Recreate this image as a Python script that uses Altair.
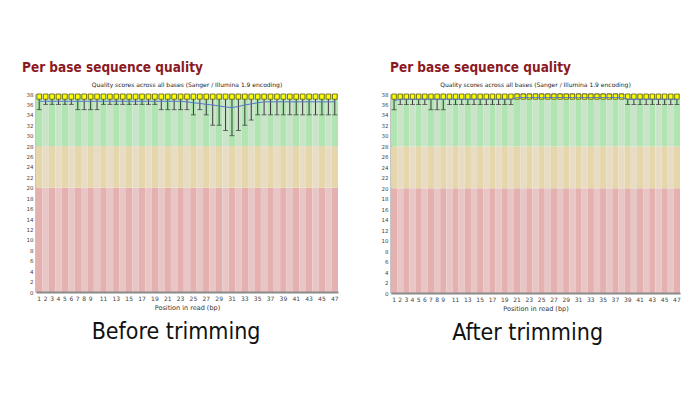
import altair as alt
import pandas as pd

positions = list(range(1, 48))
x_labels = [1, 2, 3, 4, 5, 6, 7, 8, 9, 11, 13, 15, 17, 19, 21, 23, 25, 27, 29, 31,
            33, 35, 37, 39, 41, 43, 45, 47]
y_ticks = list(range(0, 39, 2))

# Before trimming: 10th percentile, quartiles, 90th percentile, mean
before_low = [35, 36, 36, 36, 36, 36, 35, 35, 35, 35,
              36, 36, 36, 36, 36, 36, 36, 36, 36,
              35, 35, 35, 35, 35,
              34, 35, 34, 32, 32, 31, 30, 31, 32, 33,
              34, 34, 34, 34, 34, 34, 34, 34, 34, 34, 34, 34, 34]
before_q1 = [37, 37, 37, 37, 37, 37, 37, 37, 37, 37, 37, 37, 37, 37, 37, 37,
             37, 37, 37, 37, 37, 37, 37, 37, 37, 37, 37, 37, 37, 37, 37, 37,
             37, 37, 37, 37, 37, 37, 37, 37, 37, 37, 37, 37, 37, 37, 37]
before_q3 = [38, 38, 38, 38, 38, 38, 38, 38, 38, 38, 38, 38, 38, 38, 38, 38,
             38, 38, 38, 38, 38, 38, 38, 38, 38, 38, 38, 38, 38, 38, 38, 38,
             38, 38, 38, 38, 38, 38, 38, 38, 38, 38, 38, 38, 38, 38, 38]
before_mean = [36.6, 36.6, 36.6, 36.6, 36.6, 36.6, 36.6, 36.6, 36.6, 36.6,
               36.6, 36.6, 36.6, 36.6, 36.6, 36.6, 36.6, 36.6, 36.6, 36.6,
               36.6, 36.6, 36.6,
               36.5, 36.3, 36.2, 36.0, 35.9, 35.7, 35.5, 35.4, 35.6, 35.9,
               36.1, 36.3,
               36.5, 36.5, 36.5, 36.5, 36.5, 36.5, 36.5, 36.5, 36.5, 36.5,
               36.5, 36.5]

# After trimming
after_low = [35, 36, 36, 36, 36, 36, 35, 35, 35,
             36, 36, 36, 36, 36, 36, 36, 36, 36, 36, 36,
             38, 38, 38, 38, 38, 38, 38, 38, 38, 38, 38, 38, 38, 38, 38, 38,
             38, 38,
             36, 36, 36, 36, 36, 36, 36, 36, 36]
after_q1 = before_q1
after_q3 = before_q3
after_mean = [36.7,
              37.0, 37.0, 37.0, 37.0, 37.0, 37.0, 37.0, 37.0, 37.0, 37.0,
              37.0, 37.0, 37.0, 37.0, 37.0, 37.0, 37.0, 37.0, 37.0,
              37.3, 37.3, 37.3, 37.3, 37.3, 37.3, 37.3, 37.3, 37.3, 37.3,
              37.3, 37.3, 37.3, 37.3, 37.3, 37.3, 37.3, 37.3,
              37.0, 37.0, 37.0, 37.0, 37.0, 37.0, 37.0, 37.0, 37.0]

zone_names = ["bad", "ok", "good"]
zone_lo = [0, 20, 28]
zone_hi = [20, 28, 38]

shade_domain = ["good_d", "good_l", "ok_d", "ok_l", "bad_d", "bad_l"]
shade_range = ["#b0e4b0", "#cae4ca", "#e6d6ab", "#e8dcc4", "#e4b0b0", "#e8c6c6"]

SMALL_TITLE = "Quality scores across all bases (Sanger / Illumina 1.9 encoding)"
FONT = "DejaVu Sans"
BIG_FONT = "DejaVu Sans Condensed, DejaVu Sans, sans-serif"

YSCALE = alt.Scale(domain=[0, 38], nice=False, zero=True)
YAXIS = alt.Axis(values=y_ticks, title=None, ticks=False, grid=False,
                 labelFontSize=5.5, labelFont=FONT, labelColor="#444",
                 labelPadding=3, labelOverlap=False, labelBound=False,
                 domainColor="#8a8a8a", domainWidth=2)


def yq(field):
    return alt.Y(field + ":Q", scale=YSCALE, axis=YAXIS)


def bin_frame(low, q1, q3, mean):
    return pd.DataFrame({"pos": positions, "low": low, "q1": q1, "q3": q3,
                         "high": q3, "mean": mean})


def zone_frame():
    rows = []
    for p in positions:
        for z, lo, hi in zip(zone_names, zone_lo, zone_hi):
            rows.append({"pos": p, "lo": lo, "hi": hi,
                         "shade": z + ("_d" if p % 2 == 1 else "_l")})
    return pd.DataFrame(rows)


def panel(df, width, height):
    xenc = alt.X("pos:O",
                 scale=alt.Scale(paddingInner=0, paddingOuter=0),
                 axis=alt.Axis(values=x_labels, labelAngle=0,
                               title="Position in read (bp)",
                               titleFontSize=6.5, titleFontWeight="normal",
                               titleFont=FONT, titleColor="#333",
                               titlePadding=3,
                               labelFontSize=6, labelFont=FONT,
                               labelColor="#444", ticks=False,
                               labelPadding=3, labelOverlap=False,
                               domainColor="#8a8a8a", domainWidth=2))
    bg = alt.Chart(zone_frame()).mark_rect().encode(
        x=xenc,
        y=yq("lo"),
        y2="hi:Q",
        color=alt.Color("shade:N",
                        scale=alt.Scale(domain=shade_domain, range=shade_range),
                        legend=None))
    whisk = alt.Chart(df).mark_rule(color="#3a3a3a", strokeWidth=1).encode(
        x="pos:O", y=yq("low"), y2="high:Q")
    cap = alt.Chart(df).mark_tick(color="#3a3a3a", size=5, thickness=1,
                                  orient="horizontal").encode(
        x="pos:O", y=yq("low"))
    box = alt.Chart(df).mark_bar(width={"band": 0.72}, color="#ffff00",
                                 stroke="#5a5a10", strokeWidth=0.8).encode(
        x="pos:O", y=yq("q1"), y2="q3:Q")
    mean = alt.Chart(df).mark_line(color="#5577cc", strokeWidth=1).encode(
        x="pos:O", y=yq("mean"))
    return alt.layer(bg, whisk, cap, box, mean).properties(
        width=width, height=height,
        title=alt.TitleParams(SMALL_TITLE, fontSize=6, font=FONT,
                              fontWeight="normal", color="#222", offset=4))


def framed(inner, caption, title_dx, cap_dx):
    top = alt.vconcat(inner, title=alt.TitleParams(
        "Per base sequence quality", anchor="start", font=BIG_FONT,
        fontSize=13.5, fontWeight="bold", color="#8b1a1f", offset=8,
        dx=title_dx))
    return alt.vconcat(top, title=alt.TitleParams(
        caption, orient="bottom", anchor="middle", font=BIG_FONT,
        fontSize=23, fontWeight="normal", color="#111", offset=10, dx=cap_dx))


left = framed(panel(bin_frame(before_low, before_q1, before_q3, before_mean),
                    302, 198), "Before trimming", -4, -4)
right = framed(panel(bin_frame(after_low, after_q1, after_q3, after_mean),
                     289, 199), "After trimming", 9, -3)

chart = alt.hconcat(left, right, spacing=42).properties(
    padding={"top": 52, "left": 14, "right": 5, "bottom": 5}
).configure_view(stroke=None).configure_concat(spacing=0)

chart.save("out.html", embed_options={"renderer": "svg", "actions": False})
